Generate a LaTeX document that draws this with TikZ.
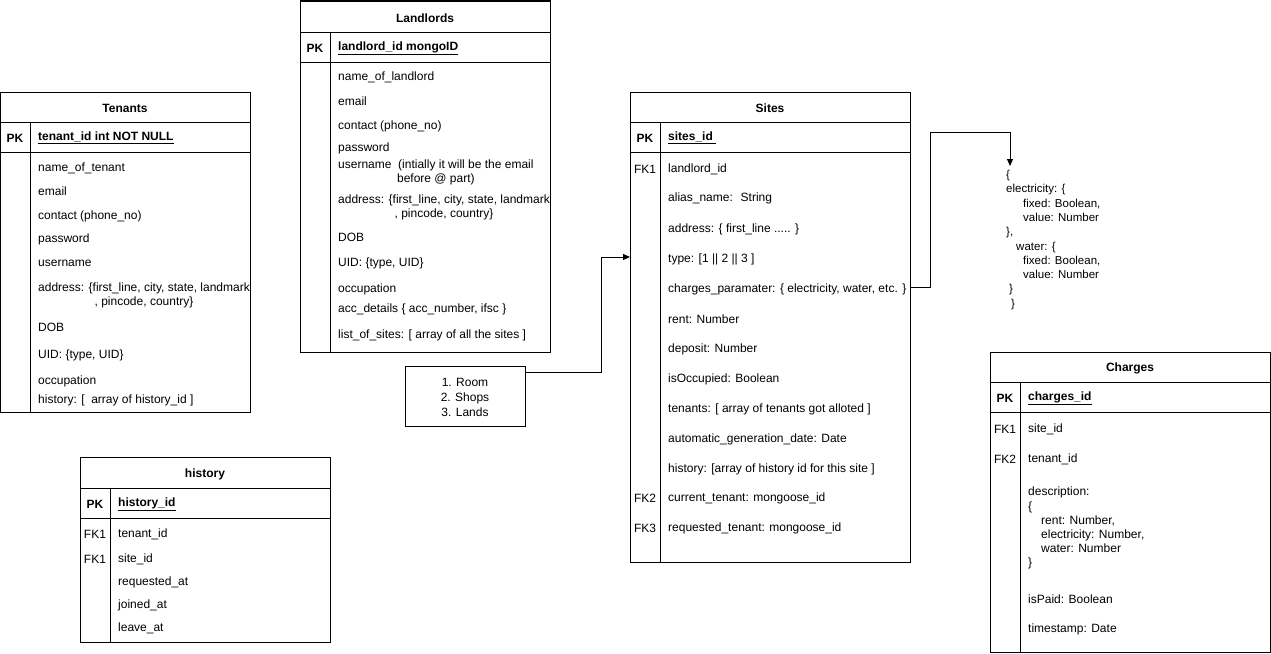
\documentclass[tikz,border=0pt]{standalone}
\usepackage{fontspec}
\setmainfont{Liberation Sans}
\usetikzlibrary{arrows.meta}
\begin{document}
\begin{tikzpicture}[x=1pt,y=-1pt,
 tbl/.style={draw, line width=1pt, anchor=north west, inner sep=0, outer sep=0},
 fld/.style={anchor=west, inner sep=0, yshift=-1pt, font=\fontsize{12}{14}\selectfont, align=center},
 ttl/.style={inner sep=0, yshift=-1pt, font=\bfseries\fontsize{12}{14}\selectfont},
 key/.style={inner sep=0, yshift=-1pt, font=\fontsize{12}{14}\selectfont},
 pk/.style={inner sep=0, yshift=-1pt, font=\bfseries\fontsize{12}{14}\selectfont},
 ln/.style={line width=1pt},
 conn/.style={line width=1pt, -{Triangle[length=7pt,width=6pt]}}
]
\useasboundingbox (0,0) rectangle (1271,653);

% ---------------- Tenants ----------------
\node[tbl, minimum width=249.5pt, minimum height=320pt] (tenants) at (0.5,92) {};
\draw[ln] (0.5,122) -- (250,122);
\draw[ln] (0.5,152) -- (250,152);
\draw[ln] (30,122) -- (30,412);
\node[ttl] (tenantsT) at (125,107) {Tenants};
\node[pk] (tenantsPK) at (15,137) {PK};
\node[fld, font=\bfseries\fontsize{12}{14}\selectfont] (tenantsId) at (38,137) {\underline{tenant\_id int NOT NULL}};
\node[fld] (t1) at (38,167) {name\_of\_tenant};
\node[fld] (t2) at (38,190) {email};
\node[fld] (t3) at (38,215) {contact (phone\_no)};
\node[fld] (t4) at (38,238) {password};
\node[fld] (t5) at (38,262) {username};
\node[fld] (t6) at (38,294.5) {address: \{first\_line, city, state, landmark\\, pincode, country\}};
\node[fld] (t7) at (38,326) {DOB};
\node[fld] (t8) at (38,354) {UID: \{type, UID\}};
\node[fld] (t9) at (38,380) {occupation};
\node[fld] (t10) at (38,399) {history: [~ array of history\_id ]};

% ---------------- Landlords ----------------
\node[tbl, minimum width=250pt, minimum height=351pt] (landlords) at (300,1) {};
\draw[ln] (300,32) -- (550,32);
\draw[ln] (300,62) -- (550,62);
\draw[ln] (330,32) -- (330,352);
\node[ttl] (landlordsT) at (425,17) {Landlords};
\node[pk] (landlordsPK) at (315,47) {PK};
\node[fld, font=\bfseries\fontsize{12}{14}\selectfont] (landlordsId) at (338,47) {\underline{landlord\_id mongoID}};
\node[fld] (l1) at (338,76) {name\_of\_landlord};
\node[fld] (l2) at (338,100) {email};
\node[fld] (l3) at (338,125) {contact (phone\_no)};
\node[fld] (l4) at (338,147) {password};
\node[fld] (l5) at (338,171) {username~ (intially it will be the email\\before @ part)};
\node[fld] (l6) at (338,206) {address: \{first\_line, city, state, landmark\\, pincode, country\}};
\node[fld] (l7) at (338,236) {DOB};
\node[fld] (l8) at (338,262) {UID: \{type, UID\}};
\node[fld] (l9) at (338,288) {occupation};
\node[fld] (l10) at (338,308) {acc\_details \{ acc\_number, ifsc \}};
\node[fld] (l11) at (338,334) {list\_of\_sites: [ array of all the sites ]};

% ---------------- Sites ----------------
\node[tbl, minimum width=280pt, minimum height=470pt] (sites) at (630,92) {};
\draw[ln] (630,122) -- (910,122);
\draw[ln] (630,152) -- (910,152);
\draw[ln] (660,122) -- (660,562);
\node[ttl] (sitesT) at (770,107) {Sites};
\node[pk] (sitesPK) at (645,137) {PK};
\node[fld, font=\bfseries\fontsize{12}{14}\selectfont] (sitesId) at (668,137) {\underline{sites\_id~}};
\node[key] (sFK1) at (645,168) {FK1};
\node[fld] (s1) at (668,168) {landlord\_id};
\node[fld] (s2) at (668,197) {alias\_name:~ String};
\node[fld] (s3) at (668,228) {address: \{ first\_line ..... \}};
\node[fld] (s4) at (668,258) {type: [1 || 2 || 3 ]};
\node[fld] (s5) at (668,288) {charges\_paramater: \{ electricity, water, etc. \}};
\node[fld] (s6) at (668,318) {rent: Number};
\node[fld] (s7) at (668,348) {deposit: Number};
\node[fld] (s8) at (668,378) {isOccupied: Boolean};
\node[fld] (s9) at (668,408) {tenants: [ array of tenants got alloted ]};
\node[fld] (s10) at (668,438) {automatic\_generation\_date: Date};
\node[fld] (s11) at (668,468) {history: [array of history id for this site ]};
\node[key] (sFK2) at (645,497) {FK2};
\node[fld] (s12) at (668,497) {current\_tenant: mongoose\_id};
\node[key] (sFK3) at (645,527) {FK3};
\node[fld] (s13) at (668,527) {requested\_tenant: mongoose\_id};

% ---------------- Charges ----------------
\node[tbl, minimum width=280pt, minimum height=300pt] (charges) at (990,352) {};
\draw[ln] (990,382) -- (1270,382);
\draw[ln] (990,412) -- (1270,412);
\draw[ln] (1020,382) -- (1020,652);
\node[ttl] (chargesT) at (1130,367) {Charges};
\node[pk] (chargesPK) at (1005,397) {PK};
\node[fld, font=\bfseries\fontsize{12}{14}\selectfont] (chargesId) at (1028,397) {\underline{charges\_id}};
\node[key] (cFK1) at (1005,428) {FK1};
\node[fld] (c1) at (1028,428) {site\_id};
\node[key] (cFK2) at (1005,458) {FK2};
\node[fld] (c2) at (1028,458) {tenant\_id};
\node[anchor=north west, inner sep=0, align=left, font=\fontsize{12}{14}\selectfont] (c3) at (1028,487)
 {description:\\[1pt]\{\\\hspace*{13pt}rent: Number,\\\hspace*{13pt}electricity: Number,\\\hspace*{13pt}water: Number\\\}};
\node[fld] (c4) at (1028,598) {isPaid: Boolean};
\node[fld] (c5) at (1028,628) {timestamp: Date};

% ---------------- history ----------------
\node[tbl, minimum width=250pt, minimum height=185pt] (history) at (80,457) {};
\draw[ln] (80,488) -- (330,488);
\draw[ln] (80,518) -- (330,518);
\draw[ln] (110,488) -- (110,642);
\node[ttl] (historyT) at (205,473) {history};
\node[pk] (historyPK) at (95,503) {PK};
\node[fld, font=\bfseries\fontsize{12}{14}\selectfont] (historyId) at (118,503) {\underline{history\_id}};
\node[key] (hFK1) at (95,533) {FK1};
\node[fld] (h1) at (118,533) {tenant\_id};
\node[key] (hFK2) at (95,558) {FK1};
\node[fld] (h2) at (118,558) {site\_id};
\node[fld] (h3) at (118,581) {requested\_at};
\node[fld] (h4) at (118,604) {joined\_at};
\node[fld] (h5) at (118,627) {leave\_at};

% ---------------- types box ----------------
\node[tbl, minimum width=120pt, minimum height=60pt] (types) at (405,366) {};
\node[inner sep=0, yshift=-1pt, align=center, font=\fontsize{12}{15}\selectfont] (typesT) at (465,396) {1. Room\\2. Shops\\3. Lands};

% ---------------- JSON text ----------------
\node[anchor=north west, inner sep=0, align=left, font=\fontsize{11.5}{14.3}\selectfont] (json) at (1006,170)
 {\{\\electricity: \{\\\hspace*{17pt}fixed: Boolean,\\\hspace*{17pt}value: Number\\\},\\\hspace*{10pt}water: \{\\\hspace*{17pt}fixed: Boolean,\\\hspace*{17pt}value: Number\\\hspace*{3pt}\}\\\hspace*{5pt}\}};

% ---------------- connectors ----------------
\coordinate (typesOut) at (525,372);
\coordinate (sitesIn) at (630,257);
\draw[conn] (typesOut) -| (601,257) -- (sitesIn);
\coordinate (sitesOut) at (910,287);
\coordinate (jsonIn) at (1010,166);
\draw[conn] (sitesOut) -| (930,132) -| (jsonIn);
\end{tikzpicture}
\end{document}
